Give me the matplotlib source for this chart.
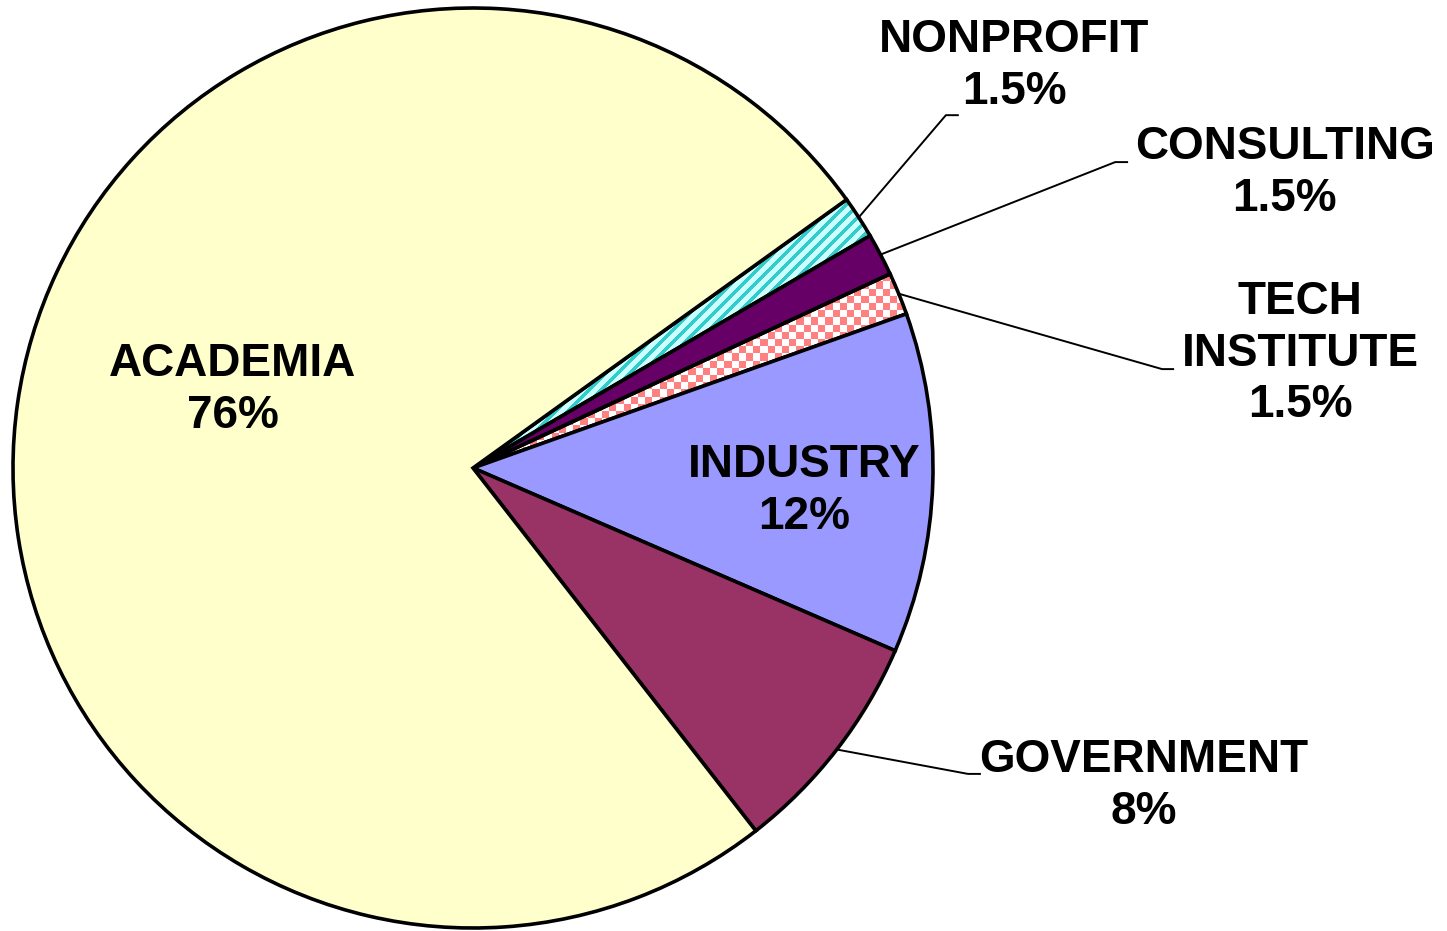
import matplotlib.pyplot as plt
import numpy as np
from matplotlib.colors import ListedColormap

plt.rcParams['font.family'] = ['Liberation Sans', 'DejaVu Sans']

# data (clockwise from the nonprofit slice)
sectors = ['NONPROFIT', 'CONSULTING', 'TECH\nINSTITUTE', 'INDUSTRY', 'GOVERNMENT', 'ACADEMIA']
shares = [1.5, 1.5, 1.5, 12, 8, 76]
share_labels = ['1.5%', '1.5%', '1.5%', '12%', '8%', '76%']
colors = ['#CCFFFF', '#660066', '#FFFFFF', '#9999FF', '#993366', '#FFFFCC']

# label layout (data coords, radius = 1): text centre, elbow of leader line
label_pos = [(1.176, 0.874), (1.765, 0.641), (1.798, 0.248),
             (0.720, -0.050), (1.459, -0.691), (-0.522, 0.170)]
elbows = [(1.028, 0.767, 1.054), (1.396, 0.665, 1.422), (1.498, 0.215, 1.522),
          None, (1.076, -0.665, 1.102), None]

fig = plt.figure(figsize=(14.47, 9.31), dpi=100)
lim = 1.02
scale = 460.0
W, H = 1447.0, 931.0
cx, cy = 473.0, 931.0 - 468.0
ax = fig.add_axes([(cx - lim * scale) / W, (cy - lim * scale) / H,
                   2 * lim * scale / W, 2 * lim * scale / H])

wedges, _ = ax.pie(shares, colors=colors, startangle=35.7, counterclock=False,
                   radius=1, wedgeprops=dict(edgecolor='black', linewidth=2.6))
ax.axis('off')

# checker fill for the tech institute slice
cell = 7.2 / scale
n = int(np.ceil(2 * lim / cell))
checker = np.indices((n, n)).sum(axis=0) % 2
wedges[2].set_facecolor('none')
im = ax.imshow(checker, cmap=ListedColormap(['white', '#FF8080']), origin='lower',
               extent=[-lim, -lim + n * cell, -lim, -lim + n * cell],
               interpolation='nearest', zorder=0.5)
im.set_clip_path(wedges[2])

# diagonal stripes for the nonprofit slice
npx = int(2 * lim * scale)
yy, xx = np.indices((npx, npx))
stripes = ((xx - yy) % 12 < 5).astype(int)
wedges[0].set_facecolor('none')
im2 = ax.imshow(stripes, cmap=ListedColormap(['#CCFFFF', '#33CCCC']), origin='lower',
                extent=[-lim, lim, -lim, lim], interpolation='nearest', zorder=0.5)
im2.set_clip_path(wedges[0])
ax.set_xlim(-lim, lim)
ax.set_ylim(-lim, lim)

for w, name, pct, pos, elb in zip(wedges, sectors, share_labels, label_pos, elbows):
    ax.text(pos[0], pos[1], name + '\n' + pct, ha='center', va='center',
            multialignment='center', fontsize=33, fontweight='bold',
            linespacing=1.22, clip_on=False)
    if elb is not None:
        mid = np.deg2rad((w.theta1 + w.theta2) / 2)
        x0, y0 = np.cos(mid), np.sin(mid)
        ax.plot([x0, elb[0], elb[2]], [y0, elb[1], elb[1]], color='black',
                lw=1.4, clip_on=False, zorder=3)

fig.savefig('out.png', dpi=100, facecolor='white')
